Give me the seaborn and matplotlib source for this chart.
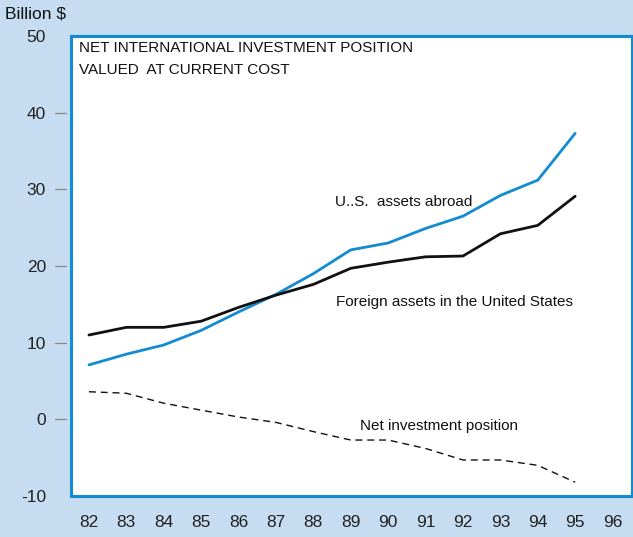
import numpy as np
import pandas as pd
import matplotlib
matplotlib.use("Agg")
import matplotlib.pyplot as plt
import matplotlib.transforms as mtransforms
import seaborn as sns

# Data (billion $)
years = [82, 83, 84, 85, 86, 87, 88, 89, 90, 91, 92, 93, 94, 95]
us_assets = [7.1, 8.5, 9.7, 11.6, 14.0, 16.3, 19.0, 22.1, 23.0, 24.9, 26.5, 29.2, 31.2, 37.3]
foreign_assets = [11.0, 12.0, 12.0, 12.8, 14.6, 16.2, 17.6, 19.7, 20.5, 21.2, 21.3, 24.2, 25.3, 29.1]
net_position = [3.6, 3.4, 2.1, 1.2, 0.3, -0.4, -1.6, -2.7, -2.7, -3.8, -5.3, -5.3, -6.0, -8.2]
x_ticks = list(range(82, 97))
y_ticks = [-10, 0, 10, 20, 30, 40, 50]

sns.set_style("white")
plt.rcParams['font.family'] = ['Liberation Sans', 'DejaVu Sans']

bg = '#c6dcf0'
blue = '#138bd0'
ink = '#111111'

df = pd.DataFrame({'year': years, 'us': us_assets, 'foreign': foreign_assets, 'net': net_position})

fig = plt.figure(figsize=(6.33, 5.37), dpi=100, facecolor=bg)
ax = fig.add_axes([71 / 633, 41 / 537, 561 / 633, 460 / 537])
ax.set_facecolor('white')

sns.lineplot(data=df, x='year', y='us', ax=ax, color=blue, linewidth=2.0)
sns.lineplot(data=df, x='year', y='foreign', ax=ax, color=ink, linewidth=2.0)
sns.lineplot(data=df, x='year', y='net', ax=ax, color=ink, linewidth=1.0,
             linestyle=(0, (5, 3.5)))

ax.set_xlim(81.52, 96.52)
ax.set_ylim(-10, 50)
ax.set_xticks(x_ticks)
ax.set_xticklabels([str(v) for v in x_ticks])
ax.set_yticks(y_ticks)
ax.set_yticklabels([str(v) for v in y_ticks])
ax.tick_params(axis='both', length=0, labelsize=12.5, colors='#222222')
ax.tick_params(axis='x', pad=14)
ax.tick_params(axis='y', pad=18)
ax.set_xlabel('')
ax.set_ylabel('')

for s in ax.spines.values():
    s.set_color(blue)
    s.set_linewidth(2.2)
    s.set_visible(True)

# detached gray tick marks on the left side
trans = mtransforms.blended_transform_factory(ax.transAxes, ax.transData)
for v in y_ticks[1:-1]:
    ax.plot([-16 / 561, -5 / 561], [v, v], transform=trans, color='#888888',
            linewidth=0.9, clip_on=False)

fig.text(5 / 633, 1 - 14 / 537, 'Billion $', fontsize=12.5, va='center', ha='left', color=ink)

# title inside the plot area
ax.text(8 / 561, 48.4, 'NET INTERNATIONAL INVESTMENT POSITION', fontsize=11,
        va='center', ha='left', color=ink, transform=trans)
ax.text(8 / 561, 45.5, 'VALUED  AT CURRENT COST', fontsize=11,
        va='center', ha='left', color=ink, transform=trans)

# series labels
ax.text(88.58, 28.4, 'U..S.  assets abroad', fontsize=11, va='center', ha='left', color=ink)
ax.text(88.6, 15.3, 'Foreign assets in the United States', fontsize=11, va='center', ha='left', color=ink)
ax.text(89.25, -0.9, 'Net investment position', fontsize=11, va='center', ha='left', color=ink)

fig.savefig('out.png', dpi=100, facecolor=bg)
